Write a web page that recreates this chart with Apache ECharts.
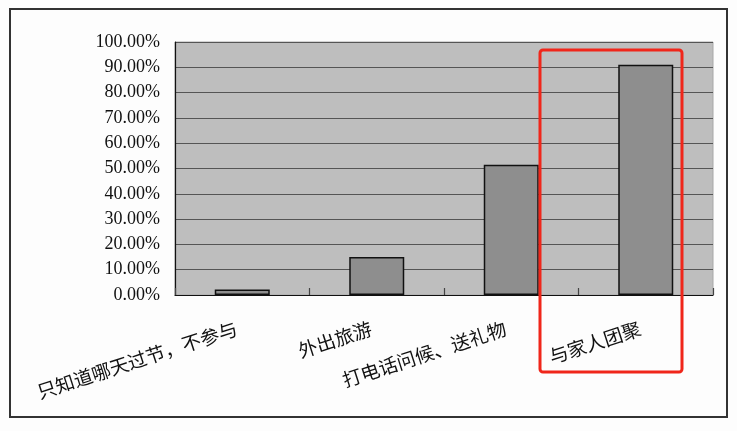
<!DOCTYPE html>
<html>
<head>
<meta charset="utf-8">
<script src="https://cdn.jsdelivr.net/npm/echarts@6/dist/echarts.min.js"></script>
<style>
  html, body { margin: 0; padding: 0; background: #fdfdfd; }
  #chart { width: 737px; height: 431px; }
</style>
</head>
<body>
<div id="chart"></div>
<script>
// 数据
var categories = ['只知道哪天过节，不参与', '外出旅游', '打电话问候、送礼物', '与家人团聚'];
var values = [0.022, 0.15, 0.515, 0.91];
var yMin = 0, yMax = 1, yStep = 0.1;

var chart = echarts.init(document.getElementById('chart'));
var option = {
  backgroundColor: '#fdfdfd',
  animation: false,
  grid: {
    left: 175, right: 24, top: 42, bottom: 136,
    show: true, backgroundColor: '#bebebe', borderWidth: 1, borderColor: '#a8a8a8'
  },
  xAxis: {
    type: 'category',
    data: categories,
    z: 5,
    axisLine: { lineStyle: { color: '#111', width: 1.2 } },
    axisTick: { show: true, inside: true, length: 7, lineStyle: { color: '#444', width: 1.2 } },
    axisLabel: {
      rotate: 18, margin: 31, interval: 0, padding: [0, 6, 0, 0],
      fontFamily: '"Noto Sans CJK SC"', fontSize: 19, color: '#111'
    }
  },
  yAxis: {
    type: 'value', min: yMin, max: yMax, interval: yStep,
    axisLine: { show: true, lineStyle: { color: '#111', width: 1.2 } },
    axisTick: { show: false },
    splitLine: { lineStyle: { color: '#555', width: 1 } },
    axisLabel: {
      margin: 15, fontFamily: '"Liberation Serif"', fontSize: 18, color: '#111',
      formatter: function (v) { return (v * 100).toFixed(2) + '%'; }
    }
  },
  series: [{
    type: 'bar',
    data: values,
    barWidth: 55,
    itemStyle: { color: '#8e8e8e', borderColor: '#111', borderWidth: 1.5 }
  }],
  graphic: [
    { type: 'rect', shape: { x: 10, y: 9, width: 717, height: 408 }, silent: true,
      style: { fill: 'none', stroke: '#333', lineWidth: 2 } },
    { type: 'rect', shape: { x: 540, y: 50, width: 142, height: 322, r: 3 }, silent: true, z: 100,
      style: { fill: 'none', stroke: '#f0261a', lineWidth: 3 } }
  ]
};
chart.setOption(option);
</script>
</body>
</html>
